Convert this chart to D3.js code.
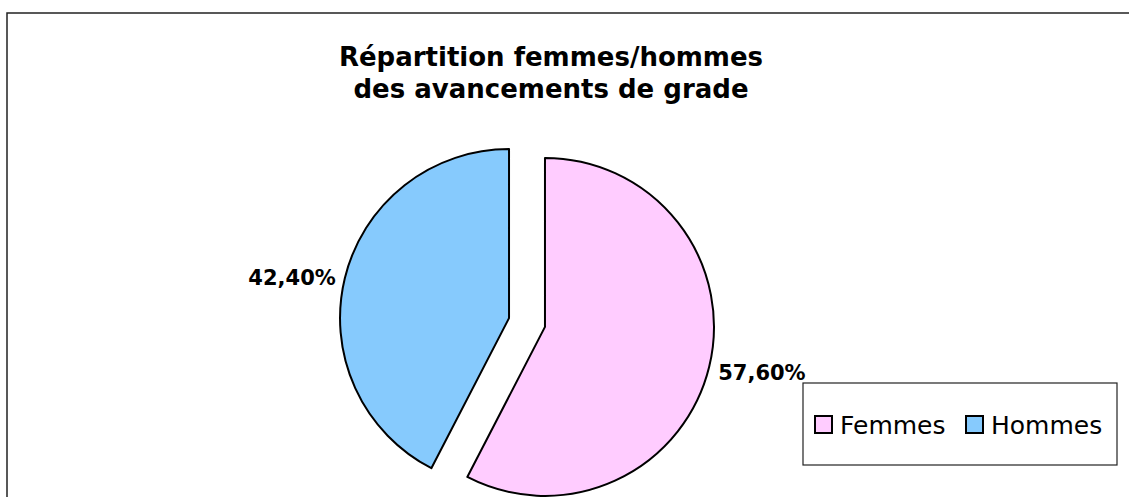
<!DOCTYPE html>
<html>
<head>
<meta charset="utf-8">
<script src="https://cdn.jsdelivr.net/npm/d3@7"></script>
<style>
  body { margin: 0; background: #fff; }
  text { font-family: "Century Gothic", "DejaVu Sans", sans-serif; fill: #000; }
</style>
</head>
<body>
<svg id="chart" width="1129" height="497"></svg>
<script>
const categories = ["Femmes", "Hommes"];
const values = [57.6, 42.4];
const colors = ["#ffccff", "#86cafd"];
const titleLines = ["Répartition femmes/hommes", "des avancements de grade"];

const fmt = (v) => v.toFixed(2).replace(".", ",") + "%";

const svg = d3.select("#chart");
const W = 1129, H = 497;

// chart frame (right/bottom edges are cut off in the original)
svg.append("path")
  .attr("d", `M7,${H} L7,13 L${W},13`)
  .attr("fill", "none")
  .attr("stroke", "#222")
  .attr("stroke-width", 1.5);

// title
svg.append("text")
  .attr("text-anchor", "middle")
  .attr("font-weight", "bold")
  .attr("font-size", 26)
  .selectAll("tspan")
  .data(titleLines)
  .enter()
  .append("tspan")
  .attr("x", 551)
  .attr("y", (d, i) => 66 + i * 32)
  .text((d) => d);

// pie
const cx = 527, cy = 322.5, R = 169, explode = 18.5, labelPad = 9;

const pie = d3.pie().sort(null).startAngle(0).endAngle(2 * Math.PI);
const arcs = pie(values);
const arc = d3.arc().innerRadius(0).outerRadius(R);

const g = svg.append("g").attr("transform", `translate(${cx},${cy})`);

const slices = g.selectAll(".slice")
  .data(arcs)
  .enter()
  .append("g")
  .attr("class", "slice")
  .attr("transform", (d) => {
    const mid = (d.startAngle + d.endAngle) / 2;
    return `translate(${explode * Math.sin(mid)},${-explode * Math.cos(mid)})`;
  });

slices.append("path")
  .attr("d", arc)
  .attr("fill", (d, i) => colors[i])
  .attr("stroke", "#000")
  .attr("stroke-width", 2)
  .attr("stroke-linejoin", "round");

// labels sit just outside the edge point at the slice's mid angle
slices.append("text")
  .each(function (d) {
    const mid = (d.startAngle + d.endAngle) / 2;
    const sx = Math.sin(mid), sy = -Math.cos(mid);
    const right = sx > 0;
    d3.select(this)
      .attr("x", R * sx + (right ? labelPad : -labelPad))
      .attr("y", R * sy + (sy > 0 ? 6 : 0))
      .attr("text-anchor", right ? "start" : "end");
  })
  .attr("dominant-baseline", "central")
  .attr("font-weight", "bold")
  .attr("font-size", 21)
  .text((d) => fmt(d.data));

// legend
const legend = svg.append("g").attr("transform", "translate(803,383)");
legend.append("rect")
  .attr("width", 314)
  .attr("height", 82)
  .attr("fill", "#fff")
  .attr("stroke", "#222")
  .attr("stroke-width", 1.2);

const items = legend.selectAll(".item")
  .data(categories)
  .enter()
  .append("g")
  .attr("class", "item")
  .attr("transform", (d, i) => `translate(${12 + i * 151},33)`);

items.append("rect")
  .attr("width", 17)
  .attr("height", 17)
  .attr("fill", (d, i) => colors[i])
  .attr("stroke", "#000")
  .attr("stroke-width", 2);

items.append("text")
  .attr("x", 25)
  .attr("y", 9)
  .attr("dominant-baseline", "central")
  .attr("font-size", 25)
  .text((d) => d);
</script>
</body>
</html>
